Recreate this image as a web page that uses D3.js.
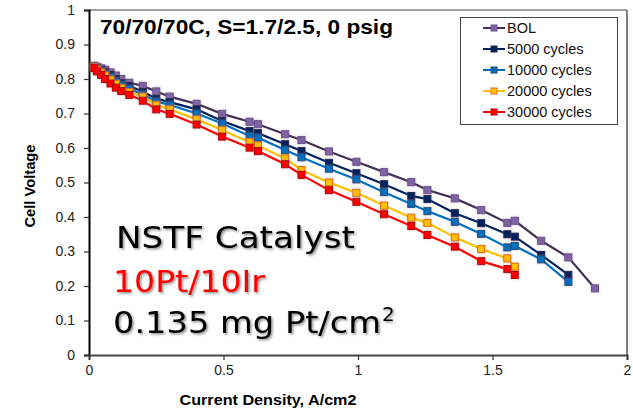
<!DOCTYPE html>
<html><head><meta charset="utf-8">
<script src="https://cdn.jsdelivr.net/npm/d3@7"></script>
<style>body{margin:0;background:#fff}svg{display:block}</style>
</head><body>
<script>
// ---- data ----
const currentDensity = [0.02, 0.03, 0.045, 0.06, 0.08, 0.1, 0.12, 0.15, 0.2, 0.25, 0.3, 0.4, 0.495, 0.597, 0.628, 0.729, 0.79, 0.892, 0.994, 1.097, 1.198, 1.258, 1.36, 1.458, 1.555, 1.583, 1.681, 1.782, 1.881];
const seriesNames = ["BOL", "5000 cycles", "10000 cycles", "20000 cycles", "30000 cycles"];
const bolV   = [0.838, 0.835, 0.831, 0.827, 0.819, 0.810, 0.800, 0.789, 0.780, 0.764, 0.749, 0.728, 0.699, 0.676, 0.669, 0.640, 0.623, 0.590, 0.560, 0.530, 0.501, 0.478, 0.454, 0.420, 0.383, 0.389, 0.331, 0.283, 0.193];
const c5000V = [0.836, 0.832, 0.827, 0.821, 0.812, 0.800, 0.788, 0.780, 0.763, 0.743, 0.733, 0.712, 0.678, 0.649, 0.643, 0.611, 0.591, 0.557, 0.527, 0.495, 0.461, 0.452, 0.411, 0.382, 0.350, 0.343, 0.290, 0.232];
const c10000V= [0.835, 0.830, 0.823, 0.816, 0.806, 0.793, 0.782, 0.772, 0.755, 0.735, 0.725, 0.700, 0.671, 0.635, 0.630, 0.594, 0.573, 0.540, 0.509, 0.472, 0.438, 0.417, 0.386, 0.351, 0.312, 0.316, 0.277, 0.212];
const c20000V= [0.834, 0.827, 0.819, 0.810, 0.798, 0.786, 0.774, 0.762, 0.749, 0.725, 0.712, 0.683, 0.652, 0.617, 0.607, 0.570, 0.536, 0.500, 0.470, 0.433, 0.398, 0.383, 0.341, 0.307, 0.280, 0.256];
const c30000V= [0.832, 0.822, 0.812, 0.800, 0.787, 0.775, 0.765, 0.754, 0.737, 0.712, 0.699, 0.668, 0.633, 0.601, 0.591, 0.553, 0.522, 0.478, 0.444, 0.408, 0.374, 0.348, 0.314, 0.272, 0.249, 0.232];
const xTicks = [0, 0.5, 1, 1.5, 2];
const yTicks = [0, 0.1, 0.2, 0.3, 0.4, 0.5, 0.6, 0.7, 0.8, 0.9, 1];

const styles = [
  {line:"#403152", fill:"#8064A2", stroke:"#6a5290"},
  {line:"#002060", fill:"#002060", stroke:"#1a2a50"},
  {line:"#0070C0", fill:"#0070C0", stroke:"#1f4e79"},
  {line:"#FFC000", fill:"#FFC000", stroke:"#E46C0A"},
  {line:"#FF0000", fill:"#FF0000", stroke:"#B00000"}
];
const allV = [bolV, c5000V, c10000V, c20000V, c30000V];
const series = seriesNames.map((n,i)=>({name:n, style:styles[i], pts: allV[i].map((v,j)=>[currentDensity[j], v])}));

const W=633, H=411;
const m = {l:89, r:6, t:10, b:56};
const svg = d3.select("body").append("svg").attr("width",W).attr("height",H);
const defs = svg.append("defs");
const sh = defs.append("filter").attr("id","sh").attr("x","-20%").attr("y","-30%").attr("width","140%").attr("height","160%");
sh.append("feDropShadow").attr("dx",1.5).attr("dy",1.5).attr("stdDeviation",1.2).attr("flood-color","#000").attr("flood-opacity",0.45);
const msh = defs.append("filter").attr("id","msh").attr("x","-50%").attr("y","-50%").attr("width","200%").attr("height","200%");
msh.append("feDropShadow").attr("dx",0).attr("dy",0).attr("stdDeviation",1).attr("flood-color","#a07080").attr("flood-opacity",0.5);

const x = d3.scaleLinear().domain([0,2]).range([m.l, W-m.r]);
const y = d3.scaleLinear().domain([0,1]).range([H-m.b, m.t]);

// plot border (top/right)
svg.append("line").attr("x1",x(0)).attr("x2",x(2)).attr("y1",y(1)).attr("y2",y(1)).attr("stroke","#808080").attr("stroke-width",1.5);
svg.append("line").attr("x1",x(2)).attr("x2",x(2)).attr("y1",y(1)).attr("y2",y(0)).attr("stroke","#808080").attr("stroke-width",2);

// axes
const font = "'Liberation Sans', Arial, sans-serif";
const yAx = svg.append("g").attr("transform",`translate(${x(0)},0)`)
  .call(d3.axisLeft(y).tickValues(yTicks).tickSize(5).tickPadding(9).tickFormat(d3.format("~g")));
const xAx = svg.append("g").attr("transform",`translate(0,${y(0)})`)
  .call(d3.axisBottom(x).tickValues(xTicks).tickSize(5).tickPadding(5).tickFormat(d3.format("~g")));
[yAx,xAx].forEach(g=>{
  g.selectAll("text").attr("font-family",font).attr("font-size","14px").attr("fill","#222");
  g.selectAll("line").attr("stroke","#333").attr("stroke-width",1.2);
});
yAx.select(".domain").attr("stroke","#000").attr("stroke-width",2);
xAx.select(".domain").attr("stroke","#444").attr("stroke-width",2);

// lines and markers
const lineGen = d3.line().x(d=>x(d[0])).y(d=>y(d[1]));
series.forEach(s=>{
  svg.append("path").attr("d",lineGen(s.pts)).attr("fill","none").attr("stroke",s.style.line).attr("stroke-width",2.2);
});
series.forEach(s=>{
  svg.append("g").attr("filter","url(#msh)").selectAll("rect").data(s.pts).enter().append("rect")
    .attr("x",d=>x(d[0])-3.5).attr("y",d=>y(d[1])-3.5).attr("width",7).attr("height",7)
    .attr("fill",s.style.fill).attr("stroke",s.style.stroke).attr("stroke-width",1);
});

// title
svg.append("text").attr("x",100).attr("y",34).attr("font-family",font).attr("font-weight","bold")
  .attr("font-size","21px").attr("textLength",293).attr("lengthAdjust","spacingAndGlyphs")
  .text("70/70/70C, S=1.7/2.5, 0 psig");

// axis titles
svg.append("text").attr("x",268).attr("y",405).attr("text-anchor","middle").attr("font-family",font)
  .attr("font-weight","bold").attr("font-size","15px").attr("textLength",177).attr("lengthAdjust","spacingAndGlyphs")
  .text("Current Density, A/cm2");
svg.append("text").attr("transform","translate(35,186) rotate(-90)").attr("text-anchor","middle").attr("font-family",font)
  .attr("font-weight","bold").attr("font-size","15px").attr("textLength",83).attr("lengthAdjust","spacingAndGlyphs")
  .text("Cell Voltage");

// legend
const lg = svg.append("g");
lg.append("rect").attr("x",460.5).attr("y",17.5).attr("width",157).attr("height",107).attr("fill","#fff").attr("stroke","#444").attr("stroke-width",1);
series.forEach((s,i)=>{
  const cy = 28 + i*21;
  lg.append("line").attr("x1",483).attr("x2",505).attr("y1",cy).attr("y2",cy).attr("stroke",s.style.line).attr("stroke-width",2);
  lg.append("rect").attr("x",491).attr("y",cy-3).attr("width",6).attr("height",6).attr("fill",s.style.fill).attr("stroke",s.style.stroke).attr("stroke-width",1);
  lg.append("text").attr("x",507).attr("y",cy+5).attr("font-family",font).attr("font-size","14.5px").attr("fill","#111").text(s.name);
});

// annotation text
const big = "'DejaVu Sans', sans-serif";
svg.append("text").attr("x",116).attr("y",248).attr("font-family",big).attr("font-size","31px").attr("fill","#000")
  .attr("filter","url(#sh)").attr("textLength",239).attr("lengthAdjust","spacingAndGlyphs").text("NSTF Catalyst");
svg.append("text").attr("x",113).attr("y",292).attr("font-family",big).attr("font-size","31px").attr("fill","#FF0000")
  .attr("filter","url(#sh)").attr("textLength",152).attr("lengthAdjust","spacingAndGlyphs").text("10Pt/10Ir");
const t3 = svg.append("text").attr("x",113).attr("y",333).attr("font-family",big).attr("font-size","31px").attr("fill","#000")
  .attr("filter","url(#sh)");
t3.append("tspan").attr("textLength",268).attr("lengthAdjust","spacingAndGlyphs").text("0.135 mg Pt/cm");
t3.append("tspan").attr("font-size","20px").attr("dy",-12).attr("dx",1).text("2");
</script>
</body></html>
